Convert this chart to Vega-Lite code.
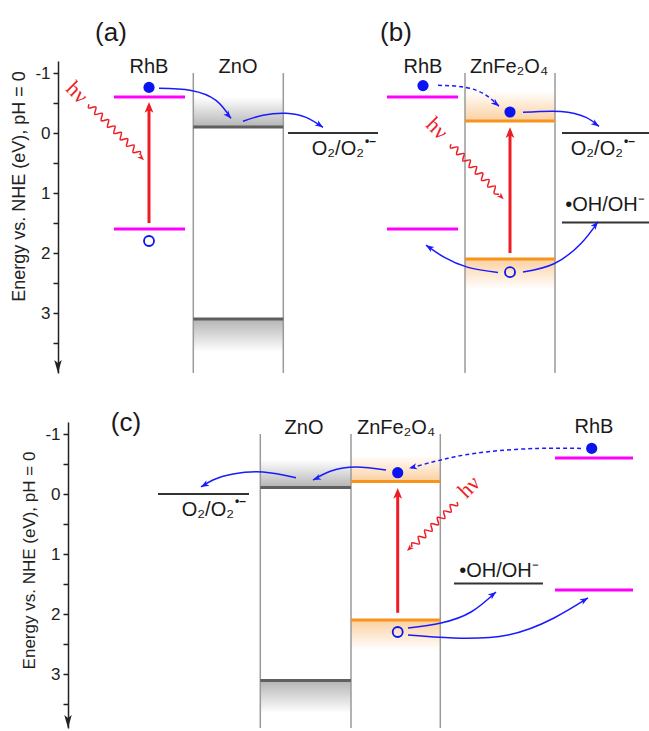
{
  "$schema": "https://vega.github.io/schema/vega-lite/v6.json",
  "background": "white",
  "padding": {"left": 9, "top": 20, "right": 0, "bottom": 0},
  "bounds": "flush",
  "spacing": 49,
  "config": {"view": {"stroke": null}, "font": "Liberation Sans"},
  "datasets": {
    "levelsTop": [
      {"x": 5.6, "x2": 12.7, "e": -0.6, "kind": "RhB"},
      {"x": 5.6, "x2": 12.7, "e": 1.6, "kind": "RhB"},
      {"x": 13.53, "x2": 22.53, "e": -0.1, "kind": "ZnO"},
      {"x": 13.53, "x2": 22.53, "e": 3.1, "kind": "ZnO"},
      {"x": 23.0, "x2": 32.0, "e": 0, "kind": "redox"},
      {"x": 32.9, "x2": 40.0, "e": -0.6, "kind": "RhB"},
      {"x": 32.9, "x2": 40.0, "e": 1.6, "kind": "RhB"},
      {"x": 40.7, "x2": 49.7, "e": -0.2, "kind": "ZnFe2O4"},
      {"x": 40.7, "x2": 49.7, "e": 2.1, "kind": "ZnFe2O4"},
      {"x": 50.4, "x2": 59.2, "e": 0, "kind": "redox"},
      {"x": 50.4, "x2": 59.2, "e": 1.49, "kind": "redox"}
    ],
    "wallsTop": [
      {"x": 13.53, "e": -1, "e2": 4},
      {"x": 22.53, "e": -1, "e2": 4},
      {"x": 40.7, "e": -1, "e2": 4},
      {"x": 49.7, "e": -1, "e2": 4}
    ],
    "glowTop": [
      {"x": 13.53, "x2": 22.53, "e": -0.6, "e2": -0.1, "kind": "ZnO above"},
      {"x": 13.53, "x2": 22.53, "e": 3.1, "e2": 3.65, "kind": "ZnO below"},
      {"x": 40.7, "x2": 49.7, "e": -0.7, "e2": -0.2, "kind": "ZnFe2O4 above"},
      {"x": 40.7, "x2": 49.7, "e": 2.1, "e2": 2.6, "kind": "ZnFe2O4 below"}
    ],
    "excitationTop": [
      {"x": 9.1, "e": 1.5, "e2": -0.45},
      {"x": 45.2, "e": 2.0, "e2": -0.03}
    ],
    "pathsTop": [
      {"id": "a1", "seq": 0, "x": 10.1, "e": -0.745, "transfer": "direct"},
      {"id": "a1", "seq": 1, "x": 13.3, "e": -0.71, "transfer": "direct"},
      {"id": "a1", "seq": 2, "x": 15.8, "e": -0.545, "transfer": "direct"},
      {"id": "a1", "seq": 3, "x": 17.3, "e": -0.243, "transfer": "direct"},
      {"id": "a2", "seq": 0, "x": 18.5, "e": -0.195, "transfer": "direct"},
      {"id": "a2", "seq": 1, "x": 20.5, "e": -0.295, "transfer": "direct"},
      {"id": "a2", "seq": 2, "x": 22.8, "e": -0.328, "transfer": "direct"},
      {"id": "a2", "seq": 3, "x": 24.8, "e": -0.26, "transfer": "direct"},
      {"id": "a2", "seq": 4, "x": 26.5, "e": -0.095, "transfer": "direct"},
      {"id": "b1", "seq": 0, "x": 38.0, "e": -0.795, "transfer": "sensitized"},
      {"id": "b1", "seq": 1, "x": 40.8, "e": -0.76, "transfer": "sensitized"},
      {"id": "b1", "seq": 2, "x": 42.8, "e": -0.63, "transfer": "sensitized"},
      {"id": "b1", "seq": 3, "x": 44.1, "e": -0.445, "transfer": "sensitized"},
      {"id": "b2", "seq": 0, "x": 46.5, "e": -0.345, "transfer": "direct"},
      {"id": "b2", "seq": 1, "x": 50.3, "e": -0.36, "transfer": "direct"},
      {"id": "b2", "seq": 2, "x": 52.8, "e": -0.26, "transfer": "direct"},
      {"id": "b2", "seq": 3, "x": 54.1, "e": -0.11, "transfer": "direct"},
      {"id": "b3", "seq": 0, "x": 44.0, "e": 2.325, "transfer": "direct"},
      {"id": "b3", "seq": 1, "x": 41.0, "e": 2.24, "transfer": "direct"},
      {"id": "b3", "seq": 2, "x": 38.6, "e": 2.07, "transfer": "direct"},
      {"id": "b3", "seq": 3, "x": 36.8, "e": 1.87, "transfer": "direct"},
      {"id": "b4", "seq": 0, "x": 46.5, "e": 2.317, "transfer": "direct"},
      {"id": "b4", "seq": 1, "x": 49.6, "e": 2.18, "transfer": "direct"},
      {"id": "b4", "seq": 2, "x": 52.3, "e": 1.84, "transfer": "direct"},
      {"id": "b4", "seq": 3, "x": 54.0, "e": 1.48, "transfer": "direct"}
    ],
    "photonTop": [
      {"id": "a", "seq": 0, "x": 3.10, "e": -0.478},
      {"id": "a", "seq": 1, "x": 3.047, "e": -0.4165},
      {"id": "a", "seq": 2, "x": 3.789, "e": -0.434},
      {"id": "a", "seq": 3, "x": 3.683, "e": -0.3105},
      {"id": "a", "seq": 4, "x": 4.426, "e": -0.328},
      {"id": "a", "seq": 5, "x": 4.320, "e": -0.204},
      {"id": "a", "seq": 6, "x": 5.062, "e": -0.222},
      {"id": "a", "seq": 7, "x": 4.956, "e": -0.098},
      {"id": "a", "seq": 8, "x": 5.698, "e": -0.116},
      {"id": "a", "seq": 9, "x": 5.592, "e": 0.008},
      {"id": "a", "seq": 10, "x": 6.335, "e": -0.010},
      {"id": "a", "seq": 11, "x": 6.228, "e": 0.114},
      {"id": "a", "seq": 12, "x": 6.971, "e": 0.096},
      {"id": "a", "seq": 13, "x": 6.865, "e": 0.220},
      {"id": "a", "seq": 14, "x": 7.607, "e": 0.202},
      {"id": "a", "seq": 15, "x": 7.501, "e": 0.326},
      {"id": "a", "seq": 16, "x": 8.243, "e": 0.308},
      {"id": "a", "seq": 17, "x": 8.19, "e": 0.370},
      {"id": "b", "seq": 0, "x": 39.30, "e": 0.188},
      {"id": "b", "seq": 1, "x": 39.240, "e": 0.250},
      {"id": "b", "seq": 2, "x": 39.984, "e": 0.235},
      {"id": "b", "seq": 3, "x": 39.863, "e": 0.358},
      {"id": "b", "seq": 4, "x": 40.608, "e": 0.343},
      {"id": "b", "seq": 5, "x": 40.487, "e": 0.466},
      {"id": "b", "seq": 6, "x": 41.232, "e": 0.451},
      {"id": "b", "seq": 7, "x": 41.111, "e": 0.574},
      {"id": "b", "seq": 8, "x": 41.855, "e": 0.559},
      {"id": "b", "seq": 9, "x": 41.734, "e": 0.683},
      {"id": "b", "seq": 10, "x": 42.479, "e": 0.667},
      {"id": "b", "seq": 11, "x": 42.358, "e": 0.791},
      {"id": "b", "seq": 12, "x": 43.103, "e": 0.776},
      {"id": "b", "seq": 13, "x": 42.982, "e": 0.899},
      {"id": "b", "seq": 14, "x": 43.726, "e": 0.884},
      {"id": "b", "seq": 15, "x": 43.606, "e": 1.007},
      {"id": "b", "seq": 16, "x": 44.102, "e": 1.021}
    ],
    "headsTop": [
      {"x": 17.3, "e": -0.243, "heading": 139, "kind": "transfer"},
      {"x": 26.5, "e": -0.095, "heading": 124, "kind": "transfer"},
      {"x": 44.1, "e": -0.445, "heading": 130, "kind": "transfer"},
      {"x": 54.1, "e": -0.11, "heading": 125, "kind": "transfer"},
      {"x": 36.8, "e": 1.87, "heading": 304, "kind": "transfer"},
      {"x": 54.0, "e": 1.48, "heading": 39, "kind": "transfer"},
      {"x": 9.1, "e": -0.517, "heading": 0, "kind": "excitation"},
      {"x": 45.2, "e": -0.095, "heading": 0, "kind": "excitation"},
      {"x": 8.6, "e": 0.455, "heading": 135, "kind": "photon"},
      {"x": 44.57, "e": 1.105, "heading": 135, "kind": "photon"},
      {"x": 0, "e": 4.0, "heading": 180, "kind": "axis"}
    ],
    "carriersTop": [
      {"x": 9.1, "e": -0.76, "kind": "electron"},
      {"x": 36.5, "e": -0.79, "kind": "electron"},
      {"x": 45.2, "e": -0.35, "kind": "electron"},
      {"x": 9.1, "e": 1.8, "kind": "hole"},
      {"x": 45.2, "e": 2.32, "kind": "hole"}
    ],
    "labelsTop": [
      {"x": 5.3, "e": -1.66, "label": "(a)", "kind": "panel", "heading": 0},
      {"x": 33.8, "e": -1.66, "label": "(b)", "kind": "panel", "heading": 0},
      {"x": 9.1, "e": -1.1, "label": "RhB", "kind": "name", "heading": 0},
      {"x": 18.0, "e": -1.1, "label": "ZnO", "kind": "name", "heading": 0},
      {"x": 36.5, "e": -1.1, "label": "RhB", "kind": "name", "heading": 0},
      {"x": 45.1, "e": -1.1, "label": "ZnFe₂O₄", "kind": "name", "heading": 0},
      {"x": 54.7, "e": 1.205, "label": "•OH/OH⁻", "kind": "name", "heading": 0},
      {"x": 30.6, "e": 0.26, "label": "O₂/O₂", "kind": "redox", "heading": 0},
      {"x": 30.7, "e": 0.14, "label": "•–", "kind": "sup", "heading": 0},
      {"x": 56.5, "e": 0.26, "label": "O₂/O₂", "kind": "redox", "heading": 0},
      {"x": 56.6, "e": 0.14, "label": "•–", "kind": "sup", "heading": 0},
      {"x": 1.9, "e": -0.678, "label": "hν", "kind": "photon", "heading": 45},
      {"x": 37.9, "e": -0.078, "label": "hν", "kind": "photon", "heading": 45}
    ],
    "levelsBottom": [
      {"x": 20.23, "x2": 29.3, "e": -0.11, "kind": "ZnO"},
      {"x": 20.23, "x2": 29.3, "e": 3.11, "kind": "ZnO"},
      {"x": 29.3, "x2": 38.23, "e": -0.21, "kind": "ZnFe2O4"},
      {"x": 29.3, "x2": 38.23, "e": 2.1, "kind": "ZnFe2O4"},
      {"x": 49.7, "x2": 57.5, "e": -0.6, "kind": "RhB"},
      {"x": 49.7, "x2": 57.5, "e": 1.6, "kind": "RhB"},
      {"x": 10.0, "x2": 19.1, "e": 0, "kind": "redox"},
      {"x": 39.6, "x2": 48.5, "e": 1.49, "kind": "redox"}
    ],
    "wallsBottom": [
      {"x": 20.23, "e": -1, "e2": 3.9},
      {"x": 29.3, "e": -1, "e2": 3.9},
      {"x": 38.23, "e": -1, "e2": 3.9}
    ],
    "glowBottom": [
      {"x": 20.23, "x2": 29.3, "e": -0.57, "e2": -0.11, "kind": "ZnO above"},
      {"x": 20.23, "x2": 29.3, "e": 3.11, "e2": 3.65, "kind": "ZnO below"},
      {"x": 29.3, "x2": 38.23, "e": -0.65, "e2": -0.21, "kind": "ZnFe2O4 above"},
      {"x": 29.3, "x2": 38.23, "e": 2.1, "e2": 2.6, "kind": "ZnFe2O4 below"}
    ],
    "excitationBottom": [
      {"x": 33.97, "e": 1.98, "e2": -0.03}
    ],
    "pathsBottom": [
      {"id": "c1", "seq": 0, "x": 52.3, "e": -0.76, "transfer": "sensitized"},
      {"id": "c1", "seq": 1, "x": 48.0, "e": -0.76, "transfer": "sensitized"},
      {"id": "c1", "seq": 2, "x": 43.0, "e": -0.705, "transfer": "sensitized"},
      {"id": "c1", "seq": 3, "x": 39.0, "e": -0.595, "transfer": "sensitized"},
      {"id": "c1", "seq": 4, "x": 35.1, "e": -0.428, "transfer": "sensitized"},
      {"id": "c2", "seq": 0, "x": 32.8, "e": -0.4, "transfer": "direct"},
      {"id": "c2", "seq": 1, "x": 29.8, "e": -0.45, "transfer": "direct"},
      {"id": "c2", "seq": 2, "x": 27.3, "e": -0.383, "transfer": "direct"},
      {"id": "c2", "seq": 3, "x": 25.5, "e": -0.233, "transfer": "direct"},
      {"id": "c3", "seq": 0, "x": 23.8, "e": -0.27, "transfer": "direct"},
      {"id": "c3", "seq": 1, "x": 20.5, "e": -0.367, "transfer": "direct"},
      {"id": "c3", "seq": 2, "x": 17.5, "e": -0.333, "transfer": "direct"},
      {"id": "c3", "seq": 3, "x": 15.5, "e": -0.233, "transfer": "direct"},
      {"id": "c3", "seq": 4, "x": 14.3, "e": -0.117, "transfer": "direct"},
      {"id": "c4", "seq": 0, "x": 35.0, "e": 2.233, "transfer": "direct"},
      {"id": "c4", "seq": 1, "x": 38.3, "e": 2.15, "transfer": "direct"},
      {"id": "c4", "seq": 2, "x": 41.3, "e": 1.967, "transfer": "direct"},
      {"id": "c4", "seq": 3, "x": 43.8, "e": 1.633, "transfer": "direct"},
      {"id": "c5", "seq": 0, "x": 35.0, "e": 2.35, "transfer": "direct"},
      {"id": "c5", "seq": 1, "x": 39.6, "e": 2.4, "transfer": "direct"},
      {"id": "c5", "seq": 2, "x": 45.0, "e": 2.35, "transfer": "direct"},
      {"id": "c5", "seq": 3, "x": 49.6, "e": 2.067, "transfer": "direct"},
      {"id": "c5", "seq": 4, "x": 53.0, "e": 1.733, "transfer": "direct"}
    ],
    "photonBottom": [
      {"id": "c", "seq": 0, "x": 39.90, "e": 0.133},
      {"id": "c", "seq": 1, "x": 39.953, "e": 0.195},
      {"id": "c", "seq": 2, "x": 39.211, "e": 0.178},
      {"id": "c", "seq": 3, "x": 39.317, "e": 0.301},
      {"id": "c", "seq": 4, "x": 38.574, "e": 0.284},
      {"id": "c", "seq": 5, "x": 38.680, "e": 0.407},
      {"id": "c", "seq": 6, "x": 37.938, "e": 0.390},
      {"id": "c", "seq": 7, "x": 38.044, "e": 0.513},
      {"id": "c", "seq": 8, "x": 37.302, "e": 0.496},
      {"id": "c", "seq": 9, "x": 37.408, "e": 0.619},
      {"id": "c", "seq": 10, "x": 36.666, "e": 0.602},
      {"id": "c", "seq": 11, "x": 36.772, "e": 0.726},
      {"id": "c", "seq": 12, "x": 36.029, "e": 0.708},
      {"id": "c", "seq": 13, "x": 36.135, "e": 0.832},
      {"id": "c", "seq": 14, "x": 35.393, "e": 0.814},
      {"id": "c", "seq": 15, "x": 35.403, "e": 0.883}
    ],
    "headsBottom": [
      {"x": 35.1, "e": -0.428, "heading": 255, "kind": "transfer"},
      {"x": 25.5, "e": -0.233, "heading": 246, "kind": "transfer"},
      {"x": 14.3, "e": -0.117, "heading": 240, "kind": "transfer"},
      {"x": 43.8, "e": 1.633, "heading": 51, "kind": "transfer"},
      {"x": 53.0, "e": 1.733, "heading": 60, "kind": "transfer"},
      {"x": 33.97, "e": -0.1, "heading": 0, "kind": "excitation"},
      {"x": 34.9, "e": 0.95, "heading": 225, "kind": "photon"},
      {"x": 1.0, "e": 3.9, "heading": 180, "kind": "axis"}
    ],
    "carriersBottom": [
      {"x": 33.97, "e": -0.355, "kind": "electron"},
      {"x": 53.37, "e": -0.76, "kind": "electron"},
      {"x": 33.97, "e": 2.3, "kind": "hole"}
    ],
    "labelsBottom": [
      {"x": 6.8, "e": -1.18, "label": "(c)", "kind": "panel", "heading": 0},
      {"x": 24.6, "e": -1.1, "label": "ZnO", "kind": "name", "heading": 0},
      {"x": 33.8, "e": -1.1, "label": "ZnFe₂O₄", "kind": "name", "heading": 0},
      {"x": 53.6, "e": -1.12, "label": "RhB", "kind": "name", "heading": 0},
      {"x": 44.1, "e": 1.29, "label": "•OH/OH⁻", "kind": "name", "heading": 0},
      {"x": 17.6, "e": 0.27, "label": "O₂/O₂", "kind": "redox", "heading": 0},
      {"x": 17.7, "e": 0.12, "label": "•–", "kind": "sup", "heading": 0},
      {"x": 41.1, "e": -0.117, "label": "hν", "kind": "photon", "heading": -45}
    ]
  },
  "vconcat": [
    {
      "width": 592,
      "height": 312,
      "encoding": {
        "x": {"field": "x", "type": "quantitative", "scale": {"domain": [0, 59.2], "nice": false, "zero": false}, "axis": null},
        "y": {"field": "e", "type": "quantitative", "scale": {"domain": [-1.2, 4.0], "nice": false, "zero": false, "reverse": true},
          "axis": {"title": "Energy vs. NHE (eV), pH = 0", "values": [-1, -0.5, 0, 0.5, 1, 1.5, 2, 2.5, 3, 3.5],
            "labelExpr": "datum.value % 1 === 0 ? (datum.value < 0 ? '-' + abs(datum.value) : '' + datum.value) : ''",
            "grid": false, "domainColor": "#222222", "domainWidth": 1.5, "tickColor": "#222222", "tickWidth": 1.5, "tickSize": 5,
            "labelFontSize": 17, "labelColor": "#222222", "labelPadding": 3, "labelFont": "Liberation Sans", "labelOverlap": false, "labelFlush": false,
            "titleFont": "Liberation Sans", "titleFontSize": 18, "titleFontWeight": "normal", "titleColor": "#222222",
            "titleX": -39, "titleY": 125, "titleAngle": 270, "titleAlign": "center", "titleBaseline": "middle"}}
      },
      "layer": [
        {"data": {"name": "glowTop"}, "transform": [{"filter": "datum.kind === 'ZnO above'"}],
          "mark": {"type": "rect", "fill": {"gradient": "linear", "x1": 0, "y1": 0, "x2": 0, "y2": 1, "stops": [{"offset": 0, "color": "#ffffff"}, {"offset": 1, "color": "#b4b4b4"}]}},
          "encoding": {"x2": {"field": "x2"}, "y2": {"field": "e2"}}},
        {"data": {"name": "glowTop"}, "transform": [{"filter": "datum.kind === 'ZnO below'"}],
          "mark": {"type": "rect", "fill": {"gradient": "linear", "x1": 0, "y1": 0, "x2": 0, "y2": 1, "stops": [{"offset": 0, "color": "#b4b4b4"}, {"offset": 1, "color": "#ffffff"}]}},
          "encoding": {"x2": {"field": "x2"}, "y2": {"field": "e2"}}},
        {"data": {"name": "glowTop"}, "transform": [{"filter": "datum.kind === 'ZnFe2O4 above'"}],
          "mark": {"type": "rect", "fill": {"gradient": "linear", "x1": 0, "y1": 0, "x2": 0, "y2": 1, "stops": [{"offset": 0, "color": "#ffffff"}, {"offset": 1, "color": "#fbd0a0"}]}},
          "encoding": {"x2": {"field": "x2"}, "y2": {"field": "e2"}}},
        {"data": {"name": "glowTop"}, "transform": [{"filter": "datum.kind === 'ZnFe2O4 below'"}],
          "mark": {"type": "rect", "fill": {"gradient": "linear", "x1": 0, "y1": 0, "x2": 0, "y2": 1, "stops": [{"offset": 0, "color": "#fbd0a0"}, {"offset": 1, "color": "#ffffff"}]}},
          "encoding": {"x2": {"field": "x2"}, "y2": {"field": "e2"}}},
        {"data": {"name": "wallsTop"}, "mark": {"type": "rule", "color": "#9a9a9a", "strokeWidth": 1.5},
          "encoding": {"y2": {"field": "e2"}}},
        {"data": {"name": "levelsTop"}, "transform": [{"filter": "datum.kind !== 'redox'"}],
          "mark": {"type": "rule", "strokeWidth": 3},
          "encoding": {"x2": {"field": "x2"}, "color": {"field": "kind", "type": "nominal", "legend": null,
            "scale": {"domain": ["RhB", "ZnO", "ZnFe2O4"], "range": ["#ff00ff", "#5f5f5f", "#f7941d"]}}}},
        {"data": {"name": "levelsTop"}, "transform": [{"filter": "datum.kind === 'redox'"}],
          "mark": {"type": "rule", "strokeWidth": 2, "color": "#333333"},
          "encoding": {"x2": {"field": "x2"}}},
        {"data": {"name": "excitationTop"}, "mark": {"type": "rule", "strokeWidth": 3, "color": "#ee1c25"},
          "encoding": {"y2": {"field": "e2"}}},
        {"data": {"name": "pathsTop"}, "transform": [{"filter": "datum.transfer === 'direct'"}],
          "mark": {"type": "line", "interpolate": "natural", "color": "#1a1aff", "strokeWidth": 1.5},
          "encoding": {"detail": {"field": "id"}, "order": {"field": "seq"}}},
        {"data": {"name": "pathsTop"}, "transform": [{"filter": "datum.transfer === 'sensitized'"}],
          "mark": {"type": "line", "interpolate": "natural", "color": "#1a1aff", "strokeWidth": 1.5, "strokeDash": [4, 3]},
          "encoding": {"detail": {"field": "id"}, "order": {"field": "seq"}}},
        {"data": {"name": "photonTop"},
          "mark": {"type": "line", "interpolate": "catmull-rom", "color": "#ee1c25", "strokeWidth": 1.5},
          "encoding": {"detail": {"field": "id"}, "order": {"field": "seq"}}},
        {"data": {"name": "headsTop"}, "transform": [{"filter": "datum.kind === 'transfer'"}],
          "mark": {"type": "point", "shape": "M0,0L-0.7,1.8L0,1.3L0.7,1.8Z", "filled": true, "color": "#1a1aff", "opacity": 1, "size": 80, "strokeWidth": 0},
          "encoding": {"angle": {"field": "heading", "type": "quantitative", "scale": null}}},
        {"data": {"name": "headsTop"}, "transform": [{"filter": "datum.kind === 'excitation'"}],
          "mark": {"type": "point", "shape": "M0,0L-0.75,1.8L0,1.35L0.75,1.8Z", "filled": true, "color": "#ee1c25", "opacity": 1, "size": 140, "strokeWidth": 0},
          "encoding": {"angle": {"field": "heading", "type": "quantitative", "scale": null}}},
        {"data": {"name": "headsTop"}, "transform": [{"filter": "datum.kind === 'photon'"}],
          "mark": {"type": "point", "shape": "M0,0L-0.7,1.8L0,1.3L0.7,1.8Z", "filled": true, "color": "#ee1c25", "opacity": 1, "size": 60, "strokeWidth": 0},
          "encoding": {"angle": {"field": "heading", "type": "quantitative", "scale": null}}},
        {"data": {"name": "headsTop"}, "transform": [{"filter": "datum.kind === 'axis'"}],
          "mark": {"type": "point", "shape": "M0,0L-0.75,2.6L0,2.0L0.75,2.6Z", "filled": true, "color": "#222222", "opacity": 1, "size": 100, "strokeWidth": 0},
          "encoding": {"angle": {"field": "heading", "type": "quantitative", "scale": null}}},
        {"data": {"name": "carriersTop"}, "transform": [{"filter": "datum.kind === 'electron'"}],
          "mark": {"type": "point", "shape": "circle", "filled": true, "color": "#0a14f0", "opacity": 1, "size": 125}},
        {"data": {"name": "carriersTop"}, "transform": [{"filter": "datum.kind === 'hole'"}],
          "mark": {"type": "point", "shape": "circle", "filled": false, "color": "#0a14f0", "opacity": 1, "size": 100, "strokeWidth": 1.8}},
        {"data": {"name": "labelsTop"}, "transform": [{"filter": "datum.kind === 'panel'"}],
          "mark": {"type": "text", "fontSize": 26, "color": "#1a1a1a", "align": "center", "baseline": "middle"},
          "encoding": {"text": {"field": "label"}}},
        {"data": {"name": "labelsTop"}, "transform": [{"filter": "datum.kind === 'name'"}],
          "mark": {"type": "text", "fontSize": 20, "color": "#1a1a1a", "align": "center", "baseline": "middle"},
          "encoding": {"text": {"field": "label"}}},
        {"data": {"name": "labelsTop"}, "transform": [{"filter": "datum.kind === 'redox'"}],
          "mark": {"type": "text", "fontSize": 20, "color": "#1a1a1a", "align": "right", "baseline": "middle"},
          "encoding": {"text": {"field": "label"}}},
        {"data": {"name": "labelsTop"}, "transform": [{"filter": "datum.kind === 'sup'"}],
          "mark": {"type": "text", "fontSize": 12, "fontWeight": "bold", "color": "#1a1a1a", "align": "left", "baseline": "middle"},
          "encoding": {"text": {"field": "label"}}},
        {"data": {"name": "labelsTop"}, "transform": [{"filter": "datum.kind === 'photon'"}],
          "mark": {"type": "text", "font": "Liberation Serif", "fontSize": 22, "color": "#ee1c25", "align": "center", "baseline": "middle"},
          "encoding": {"text": {"field": "label"}, "angle": {"field": "heading", "type": "quantitative", "scale": null}}}
      ]
    },
    {
      "width": 592,
      "height": 306,
      "encoding": {
        "x": {"field": "x", "type": "quantitative", "scale": {"domain": [0, 59.2], "nice": false, "zero": false}, "axis": null},
        "y": {"field": "e", "type": "quantitative", "scale": {"domain": [-1.2, 3.9], "nice": false, "zero": false, "reverse": true},
          "axis": {"title": "Energy vs. NHE (eV), pH = 0", "values": [-1, -0.5, 0, 0.5, 1, 1.5, 2, 2.5, 3, 3.5],
            "labelExpr": "datum.value % 1 === 0 ? (datum.value < 0 ? '-' + abs(datum.value) : '' + datum.value) : ''",
            "offset": -10,
            "grid": false, "domainColor": "#222222", "domainWidth": 1.5, "tickColor": "#222222", "tickWidth": 1.5, "tickSize": 5,
            "labelFontSize": 17, "labelColor": "#222222", "labelPadding": 3, "labelFont": "Liberation Sans", "labelOverlap": false, "labelFlush": false,
            "titleFont": "Liberation Sans", "titleFontSize": 17, "titleFontWeight": "normal", "titleColor": "#222222",
            "titleX": -39, "titleY": 138, "titleAngle": 270, "titleAlign": "center", "titleBaseline": "middle"}}
      },
      "layer": [
        {"data": {"name": "glowBottom"}, "transform": [{"filter": "datum.kind === 'ZnO above'"}],
          "mark": {"type": "rect", "fill": {"gradient": "linear", "x1": 0, "y1": 0, "x2": 0, "y2": 1, "stops": [{"offset": 0, "color": "#ffffff"}, {"offset": 1, "color": "#b4b4b4"}]}},
          "encoding": {"x2": {"field": "x2"}, "y2": {"field": "e2"}}},
        {"data": {"name": "glowBottom"}, "transform": [{"filter": "datum.kind === 'ZnO below'"}],
          "mark": {"type": "rect", "fill": {"gradient": "linear", "x1": 0, "y1": 0, "x2": 0, "y2": 1, "stops": [{"offset": 0, "color": "#b4b4b4"}, {"offset": 1, "color": "#ffffff"}]}},
          "encoding": {"x2": {"field": "x2"}, "y2": {"field": "e2"}}},
        {"data": {"name": "glowBottom"}, "transform": [{"filter": "datum.kind === 'ZnFe2O4 above'"}],
          "mark": {"type": "rect", "fill": {"gradient": "linear", "x1": 0, "y1": 0, "x2": 0, "y2": 1, "stops": [{"offset": 0, "color": "#ffffff"}, {"offset": 1, "color": "#fbd0a0"}]}},
          "encoding": {"x2": {"field": "x2"}, "y2": {"field": "e2"}}},
        {"data": {"name": "glowBottom"}, "transform": [{"filter": "datum.kind === 'ZnFe2O4 below'"}],
          "mark": {"type": "rect", "fill": {"gradient": "linear", "x1": 0, "y1": 0, "x2": 0, "y2": 1, "stops": [{"offset": 0, "color": "#fbd0a0"}, {"offset": 1, "color": "#ffffff"}]}},
          "encoding": {"x2": {"field": "x2"}, "y2": {"field": "e2"}}},
        {"data": {"name": "wallsBottom"}, "mark": {"type": "rule", "color": "#9a9a9a", "strokeWidth": 1.5},
          "encoding": {"y2": {"field": "e2"}}},
        {"data": {"name": "levelsBottom"}, "transform": [{"filter": "datum.kind !== 'redox'"}],
          "mark": {"type": "rule", "strokeWidth": 3},
          "encoding": {"x2": {"field": "x2"}, "color": {"field": "kind", "type": "nominal", "legend": null,
            "scale": {"domain": ["RhB", "ZnO", "ZnFe2O4"], "range": ["#ff00ff", "#5f5f5f", "#f7941d"]}}}},
        {"data": {"name": "levelsBottom"}, "transform": [{"filter": "datum.kind === 'redox'"}],
          "mark": {"type": "rule", "strokeWidth": 2, "color": "#333333"},
          "encoding": {"x2": {"field": "x2"}}},
        {"data": {"name": "excitationBottom"}, "mark": {"type": "rule", "strokeWidth": 3, "color": "#ee1c25"},
          "encoding": {"y2": {"field": "e2"}}},
        {"data": {"name": "pathsBottom"}, "transform": [{"filter": "datum.transfer === 'direct'"}],
          "mark": {"type": "line", "interpolate": "natural", "color": "#1a1aff", "strokeWidth": 1.5},
          "encoding": {"detail": {"field": "id"}, "order": {"field": "seq"}}},
        {"data": {"name": "pathsBottom"}, "transform": [{"filter": "datum.transfer === 'sensitized'"}],
          "mark": {"type": "line", "interpolate": "natural", "color": "#1a1aff", "strokeWidth": 1.5, "strokeDash": [4, 3]},
          "encoding": {"detail": {"field": "id"}, "order": {"field": "seq"}}},
        {"data": {"name": "photonBottom"},
          "mark": {"type": "line", "interpolate": "catmull-rom", "color": "#ee1c25", "strokeWidth": 1.5},
          "encoding": {"detail": {"field": "id"}, "order": {"field": "seq"}}},
        {"data": {"name": "headsBottom"}, "transform": [{"filter": "datum.kind === 'transfer'"}],
          "mark": {"type": "point", "shape": "M0,0L-0.7,1.8L0,1.3L0.7,1.8Z", "filled": true, "color": "#1a1aff", "opacity": 1, "size": 80, "strokeWidth": 0},
          "encoding": {"angle": {"field": "heading", "type": "quantitative", "scale": null}}},
        {"data": {"name": "headsBottom"}, "transform": [{"filter": "datum.kind === 'excitation'"}],
          "mark": {"type": "point", "shape": "M0,0L-0.75,1.8L0,1.35L0.75,1.8Z", "filled": true, "color": "#ee1c25", "opacity": 1, "size": 140, "strokeWidth": 0},
          "encoding": {"angle": {"field": "heading", "type": "quantitative", "scale": null}}},
        {"data": {"name": "headsBottom"}, "transform": [{"filter": "datum.kind === 'photon'"}],
          "mark": {"type": "point", "shape": "M0,0L-0.7,1.8L0,1.3L0.7,1.8Z", "filled": true, "color": "#ee1c25", "opacity": 1, "size": 60, "strokeWidth": 0},
          "encoding": {"angle": {"field": "heading", "type": "quantitative", "scale": null}}},
        {"data": {"name": "headsBottom"}, "transform": [{"filter": "datum.kind === 'axis'"}],
          "mark": {"type": "point", "shape": "M0,0L-0.75,2.6L0,2.0L0.75,2.6Z", "filled": true, "color": "#222222", "opacity": 1, "size": 100, "strokeWidth": 0},
          "encoding": {"angle": {"field": "heading", "type": "quantitative", "scale": null}}},
        {"data": {"name": "carriersBottom"}, "transform": [{"filter": "datum.kind === 'electron'"}],
          "mark": {"type": "point", "shape": "circle", "filled": true, "color": "#0a14f0", "opacity": 1, "size": 125}},
        {"data": {"name": "carriersBottom"}, "transform": [{"filter": "datum.kind === 'hole'"}],
          "mark": {"type": "point", "shape": "circle", "filled": false, "color": "#0a14f0", "opacity": 1, "size": 100, "strokeWidth": 1.8}},
        {"data": {"name": "labelsBottom"}, "transform": [{"filter": "datum.kind === 'panel'"}],
          "mark": {"type": "text", "fontSize": 26, "color": "#1a1a1a", "align": "center", "baseline": "middle"},
          "encoding": {"text": {"field": "label"}}},
        {"data": {"name": "labelsBottom"}, "transform": [{"filter": "datum.kind === 'name'"}],
          "mark": {"type": "text", "fontSize": 20, "color": "#1a1a1a", "align": "center", "baseline": "middle"},
          "encoding": {"text": {"field": "label"}}},
        {"data": {"name": "labelsBottom"}, "transform": [{"filter": "datum.kind === 'redox'"}],
          "mark": {"type": "text", "fontSize": 20, "color": "#1a1a1a", "align": "right", "baseline": "middle"},
          "encoding": {"text": {"field": "label"}}},
        {"data": {"name": "labelsBottom"}, "transform": [{"filter": "datum.kind === 'sup'"}],
          "mark": {"type": "text", "fontSize": 12, "fontWeight": "bold", "color": "#1a1a1a", "align": "left", "baseline": "middle"},
          "encoding": {"text": {"field": "label"}}},
        {"data": {"name": "labelsBottom"}, "transform": [{"filter": "datum.kind === 'photon'"}],
          "mark": {"type": "text", "font": "Liberation Serif", "fontSize": 22, "color": "#ee1c25", "align": "center", "baseline": "middle"},
          "encoding": {"text": {"field": "label"}, "angle": {"field": "heading", "type": "quantitative", "scale": null}}}
      ]
    }
  ]
}
